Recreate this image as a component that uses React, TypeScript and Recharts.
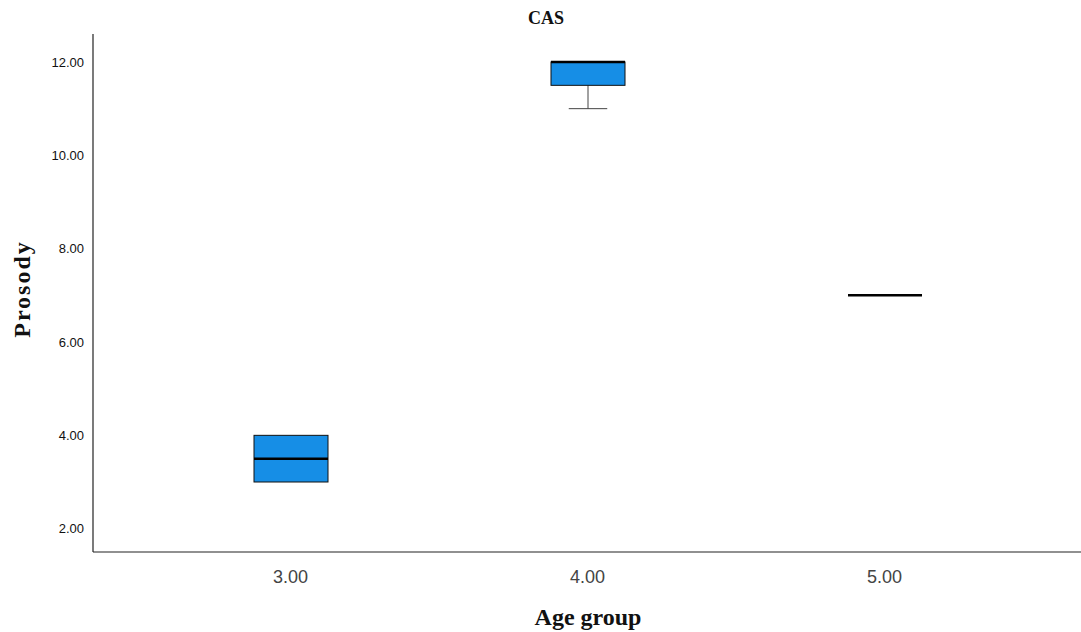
import React from 'react';
import { ComposedChart, Bar, XAxis, YAxis } from 'recharts';

const categories = ['3.00', '4.00', '5.00'];
const minValues = [3, 11, 7];
const q1Values = [3, 11.5, 7];
const medianValues = [3.5, 12, 7];
const q3Values = [4, 12, 7];
const maxValues = [4, 12, 7];
const yTicks = [2, 4, 6, 8, 10, 12];

const DOMAIN: [number, number] = [1.5, 12.6];

const data = categories.map((c, i) => ({
  category: c,
  min: minValues[i],
  q1: q1Values[i],
  median: medianValues[i],
  q3: q3Values[i],
  max: maxValues[i],
}));

const BOX_FILL = '#168ee6';

const BoxShape = (props: any) => {
  const { x, y, width, height, payload } = props;
  const [lo, hi] = DOMAIN;
  const toPx = (v: number) => y + ((hi - v) / (hi - lo)) * height;
  const cx = x + width / 2;
  const yMin = toPx(payload.min);
  const yQ1 = toPx(payload.q1);
  const yMed = toPx(payload.median);
  const yQ3 = toPx(payload.q3);
  const yMax = toPx(payload.max);
  const capHalf = width * 0.26;
  return (
    <g>
      {payload.max > payload.q3 && (
        <g>
          <line x1={cx} x2={cx} y1={yMax} y2={yQ3} stroke="#444" strokeWidth={1} />
          <line x1={cx - capHalf} x2={cx + capHalf} y1={yMax} y2={yMax} stroke="#444" strokeWidth={1} />
        </g>
      )}
      {payload.min < payload.q1 && (
        <g>
          <line x1={cx} x2={cx} y1={yQ1} y2={yMin} stroke="#444" strokeWidth={1} />
          <line x1={cx - capHalf} x2={cx + capHalf} y1={yMin} y2={yMin} stroke="#444" strokeWidth={1} />
        </g>
      )}
      {payload.q3 > payload.q1 && (
        <rect x={x} y={yQ3} width={width} height={yQ1 - yQ3} fill={BOX_FILL} stroke="#111" strokeWidth={1} />
      )}
      <line x1={x} x2={x + width} y1={yMed} y2={yMed} stroke="#000" strokeWidth={2.5} />
    </g>
  );
};

export default function App() {
  return (
    <div style={{ position: 'absolute', left: 0, top: 0, width: 1081, height: 632, background: '#fff' }}>
      <ComposedChart
        width={1081}
        height={632}
        data={data}
        margin={{ top: 34, right: 0, bottom: 40, left: 13 }}
      >
        <XAxis
          dataKey="category"
          padding={{ left: 49, right: 48 }}
          tickLine={false}
          axisLine={{ stroke: '#222', strokeWidth: 1.2 }}
          height={40}
          tick={{ fill: '#444', fontSize: 18, fontFamily: 'Liberation Sans, Arial, sans-serif' }}
          tickMargin={12}
        />
        <YAxis
          type="number"
          domain={DOMAIN}
          ticks={yTicks}
          tickFormatter={(v: number) => v.toFixed(2)}
          width={80}
          tickLine={false}
          axisLine={{ stroke: '#222', strokeWidth: 1.2 }}
          tick={{ fill: '#111', fontSize: 13, fontFamily: 'Liberation Sans, Arial, sans-serif' }}
          tickMargin={3}
          allowDataOverflow
        />
        <Bar
          dataKey={() => DOMAIN}
          barSize={74}
          shape={<BoxShape />}
          isAnimationActive={false}
        />
        <text x={546} y={24} textAnchor="middle" fontFamily="Liberation Serif, Times New Roman, serif" fontWeight="bold" fontSize={18} fill="#111">CAS</text>
        <text x={588} y={625} textAnchor="middle" fontFamily="Liberation Serif, Times New Roman, serif" fontWeight="bold" fontSize={24} fill="#111">Age group</text>
        <text x={30} y={289} textAnchor="middle" transform="rotate(-90 30 289)" fontFamily="Liberation Serif, Times New Roman, serif" fontWeight="bold" fontSize={24} letterSpacing={2} fill="#111">Prosody</text>
      </ComposedChart>
    </div>
  );
}
